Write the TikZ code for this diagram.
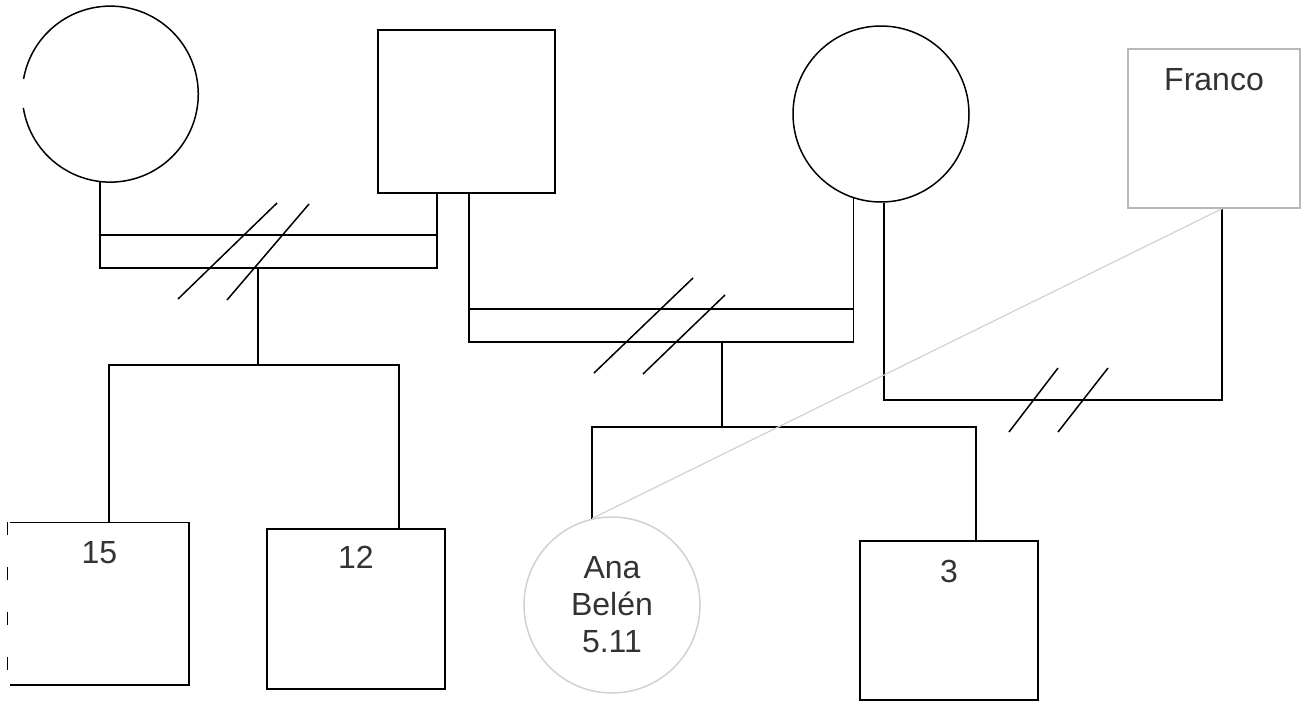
\documentclass[tikz,border=0pt]{standalone}
\usepackage{fontspec}
\setmainfont{Liberation Sans}
\usetikzlibrary{positioning}

\definecolor{faint}{gray}{0.72}
\definecolor{fainter}{gray}{0.82}

\tikzset{
  fem/.style={circle, draw, line width=1.5pt, minimum size=176pt, inner sep=0pt},
  male/.style={rectangle, draw, line width=1.5pt, inner sep=0pt},
  tag/.style={font=\fontsize{32}{37}\selectfont, text=black!80, align=center},
  rel/.style={line width=1.5pt},
  link/.style={line width=1.2pt, draw=fainter},
}

\begin{document}
\begin{tikzpicture}[x=1pt, y=-1pt]
\useasboundingbox (0,0) rectangle (1301,702);

% Parents
\node[fem, draw=none] (w1) at (111,94) {};
\draw[rel] (w1.189) arc[start angle=-189, end angle=-530, radius=88];
\node[male, minimum width=177pt, minimum height=163pt] (h1) at (466.5,111.5) {};
\node[fem] (w2) at (881,114) {};
\node[male, draw=faint, minimum width=172pt, minimum height=159pt] (fr) at (1214,128.5) {};

% Children
\node[male, draw=none, minimum width=177pt, minimum height=161pt] (s15) at (99.5,603.5) {};
\draw[rel] (s15.north west) -- (s15.north east) -- (s15.south east) -- (s15.south west);
\draw[rel, dash pattern=on 13pt off 32pt] ([xshift=-3pt]s15.north west) -- ([xshift=-3pt]s15.south west);
\node[male, minimum width=178pt, minimum height=160pt] (s12) at (356,609) {};
\node[fem, draw=fainter] (ana) at (612,605) {};
\node[male, minimum width=178pt, minimum height=159pt] (s3) at (949,620.5) {};

% Additional labels
\node[tag] at ([yshift=-31pt]fr.north) {Franco};
\node[tag] at ([yshift=-30pt]s15.north) {15};
\node[tag] at ([yshift=-29pt]s12.north) {12};
\node[tag] at ([yshift=-31pt]s3.north) {3};
\node[tag] at (ana.center) {Ana\\Belén\\5.11};

% First couple, divorced
\coordinate (d1) at (100,268);
\coordinate (d2) at (437,268);
\draw[rel] (w1.263) -- (w1.263 |- d1) -- (d2) -- (d2 |- h1.south);
\draw[rel] (d1 |- 0,235) -- (d2 |- 0,235);
\draw[rel] (178,299) -- (277,203);
\draw[rel] (227,300) -- (309,204);

% Their children
\coordinate (k1) at (258,365);
\draw[rel] (k1 |- d1) -- (k1);
\draw[rel] (s15.north -| 109,0) |- (k1) -| (s12.north -| 399,0);

% Second couple, divorced
\coordinate (e1) at (469,342);
\draw[rel] (e1 |- h1.south) -- (e1) -| (w2.252);
\draw[rel] (e1 |- 0,309) -- (w2.252 |- 0,309);
\draw[rel] (594,373) -- (693,278);
\draw[rel] (643,374) -- (725,295);

% Their children
\coordinate (k2) at (722,427);
\draw[rel] (k2 |- e1) -- (k2);
\draw[rel] (ana.103) |- (k2) -| (s3.north -| 976,0);

% Third couple, separated
\coordinate (f2) at (1222,400);
\draw[rel] (w2.272) |- (f2) -- (f2 |- fr.south);
\draw[rel] (1009,432) -- (1058,368);
\draw[rel] (1058,432) -- (1108,368);

% Ana and Franco
\draw[link] (ana.103) -- (fr.south -| f2);
\end{tikzpicture}
\end{document}
